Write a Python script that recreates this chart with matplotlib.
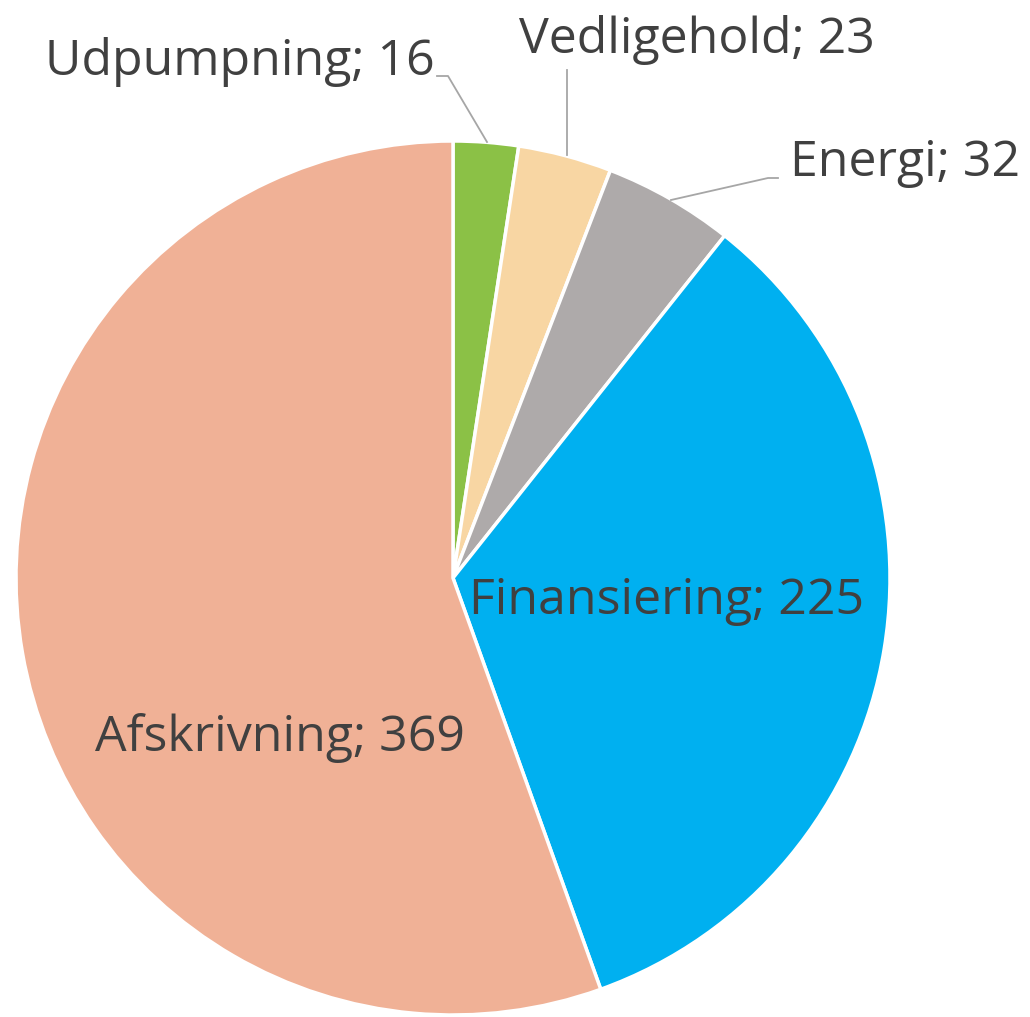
import matplotlib.pyplot as plt

# data
labels = ['Udpumpning', 'Vedligehold', 'Energi', 'Finansiering', 'Afskrivning']
values = [16, 23, 32, 225, 369]
colors = ['#8BC146', '#F8D6A3', '#AEAAAA', '#00B0F0', '#F0B196']

W, H = 1030, 1017
plt.rcParams['font.family'] = ['Open Sans', 'DejaVu Sans']

fig = plt.figure(figsize=(W / 100, H / 100), dpi=100)
ax = fig.add_axes([0, 0, 1, 1])

cx, cy, r = 453, H - 578, 437
ax.pie(values, colors=colors, startangle=90, counterclock=False,
       center=(cx, cy), radius=r, frame=True,
       wedgeprops=dict(edgecolor='white', linewidth=2.5))
ax.set_xlim(0, W)
ax.set_ylim(0, H)
ax.set_aspect('equal')
ax.axis('off')

txt = dict(color='#404040', fontsize=36)
# label positions (image pixels, y down)
pos = {
    'Udpumpning': (435, 62, 'right'),
    'Vedligehold': (697, 40, 'center'),
    'Energi': (905, 163, 'center'),
    'Finansiering': (667, 601, 'center'),
    'Afskrivning': (280, 738, 'center'),
}
for lab, v in zip(labels, values):
    x, y, ha = pos[lab]
    ax.text(x, H - y, f'{lab}; {v}', ha=ha, va='center', **txt)

# leader lines
lc = dict(color='#A6A6A6', linewidth=1.3)
ax.plot([437, 448, 487], [H - 76, H - 76, H - 142], **lc)
ax.plot([567, 567], [H - 70, H - 155], **lc)
ax.plot([778, 768, 671], [H - 178, H - 178, H - 200], **lc)

fig.savefig('out.png', dpi=100)
